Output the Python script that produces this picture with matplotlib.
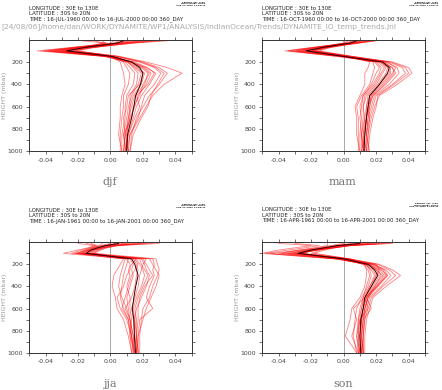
import matplotlib
matplotlib.use('Agg')
from matplotlib import pyplot as plt
import numpy as np

plt.rcParams['axes.unicode_minus'] = False

# pressure levels (mbar)
levels = [10, 30, 50, 70, 100, 150, 200, 250, 300, 400, 500, 600, 700, 850, 1000]

x_ticks = [-0.04, -0.02, 0.00, 0.02, 0.04]
x_tick_labels = ['-0.04', '-0.02', '0.00', '0.02', '0.04']
y_ticks = [200, 400, 600, 800, 1000]
y_tick_labels = ['200', '400', '600', '800', '1000']

# djf
djf_mean = [0.008, 0.004, -0.006, -0.016, -0.027, 0.001, 0.013, 0.018, 0.020, 0.0185, 0.0155, 0.0144, 0.013, 0.0105, 0.0099]
djf_members = [
    [0.030, 0.012, 0.000, -0.012, -0.022, 0.006, 0.022, 0.035, 0.044, 0.033, 0.026, 0.022, 0.018, 0.012, 0.011],
    [0.020, 0.008, -0.004, -0.015, -0.030, 0.003, 0.020, 0.030, 0.035, 0.030, 0.024, 0.020, 0.016, 0.013, 0.012],
    [0.035, 0.015, 0.002, -0.010, -0.020, 0.004, 0.018, 0.027, 0.031, 0.027, 0.021, 0.019, 0.017, 0.012, 0.010],
    [-0.010, -0.004, -0.012, -0.025, -0.045, -0.004, 0.012, 0.022, 0.028, 0.024, 0.019, 0.016, 0.014, 0.011, 0.009],
    [0.012, 0.006, -0.006, -0.020, -0.038, -0.002, 0.014, 0.021, 0.025, 0.022, 0.017, 0.015, 0.012, 0.009, 0.008],
    [0.005, 0.002, -0.009, -0.018, -0.032, 0.000, 0.013, 0.019, 0.023, 0.021, 0.015, 0.013, 0.011, 0.010, 0.010],
    [0.025, 0.010, 0.000, -0.012, -0.025, 0.002, 0.012, 0.017, 0.021, 0.019, 0.014, 0.012, 0.012, 0.010, 0.011],
    [-0.018, -0.002, -0.010, -0.022, -0.040, -0.003, 0.010, 0.015, 0.019, 0.017, 0.013, 0.011, 0.010, 0.008, 0.009],
    [0.015, 0.005, -0.005, -0.014, -0.028, 0.002, 0.011, 0.014, 0.017, 0.016, 0.012, 0.012, 0.011, 0.009, 0.008],
    [0.002, 0.000, -0.008, -0.019, -0.035, -0.001, 0.009, 0.012, 0.015, 0.014, 0.010, 0.009, 0.009, 0.007, 0.007],
    [0.022, 0.009, -0.003, -0.015, -0.027, 0.001, 0.008, 0.010, 0.012, 0.011, 0.008, 0.008, 0.007, 0.006, 0.006],
    [0.010, 0.004, -0.007, -0.017, -0.030, 0.000, 0.006, 0.007, 0.008, 0.009, 0.007, 0.006, 0.006, 0.005, 0.007],
    [0.028, 0.014, 0.001, -0.011, -0.024, 0.005, 0.019, 0.028, 0.033, 0.029, 0.025, 0.023, 0.019, 0.014, 0.012],
    [-0.005, -0.003, -0.011, -0.023, -0.042, -0.003, 0.013, 0.020, 0.024, 0.020, 0.018, 0.014, 0.013, 0.008, 0.010],
    [0.018, 0.007, -0.004, -0.016, -0.034, 0.001, 0.015, 0.023, 0.027, 0.023, 0.016, 0.018, 0.015, 0.011, 0.009],
    [0.008, 0.003, -0.008, -0.021, -0.037, -0.002, 0.011, 0.016, 0.020, 0.018, 0.011, 0.010, 0.008, 0.009, 0.011],
]

# mam
mam_mean = [0.008, 0.004, -0.005, -0.013, -0.023, 0.000, 0.024, 0.028, 0.027, 0.022, 0.016, 0.015, 0.014, 0.013, 0.0125]
mam_members = [
    [0.020, 0.010, 0.000, -0.008, -0.015, 0.006, 0.030, 0.040, 0.042, 0.033, 0.022, 0.019, 0.017, 0.015, 0.015],
    [0.015, 0.008, -0.002, -0.012, -0.020, 0.004, 0.028, 0.036, 0.038, 0.030, 0.020, 0.018, 0.016, 0.014, 0.016],
    [0.005, 0.002, -0.008, -0.018, -0.033, -0.002, 0.026, 0.033, 0.034, 0.028, 0.019, 0.017, 0.015, 0.014, 0.013],
    [0.012, 0.006, -0.003, -0.012, -0.022, 0.002, 0.025, 0.030, 0.031, 0.025, 0.018, 0.016, 0.015, 0.014, 0.014],
    [0.000, 0.000, -0.009, -0.020, -0.036, -0.004, 0.022, 0.028, 0.029, 0.023, 0.016, 0.014, 0.013, 0.012, 0.012],
    [0.010, 0.005, -0.004, -0.014, -0.026, 0.000, 0.024, 0.027, 0.026, 0.021, 0.015, 0.014, 0.014, 0.013, 0.011],
    [0.018, 0.007, -0.002, -0.010, -0.018, 0.003, 0.023, 0.026, 0.024, 0.020, 0.014, 0.012, 0.012, 0.011, 0.012],
    [0.003, 0.001, -0.007, -0.016, -0.030, -0.001, 0.020, 0.023, 0.022, 0.018, 0.012, 0.010, 0.011, 0.010, 0.010],
    [0.008, 0.004, -0.005, -0.013, -0.024, 0.001, 0.018, 0.019, 0.018, 0.016, 0.011, 0.008, 0.009, 0.009, 0.009],
    [0.014, 0.006, -0.003, -0.011, -0.020, 0.002, 0.016, 0.015, 0.013, 0.013, 0.010, 0.007, 0.008, 0.008, 0.010],
    [0.006, 0.003, -0.006, -0.017, -0.028, 0.000, 0.021, 0.025, 0.023, 0.019, 0.013, 0.012, 0.013, 0.011, 0.013],
    [0.016, 0.008, -0.001, -0.009, -0.017, 0.004, 0.027, 0.032, 0.030, 0.024, 0.017, 0.016, 0.014, 0.012, 0.014],
    [0.019, 0.009, -0.001, -0.010, -0.019, 0.005, 0.029, 0.038, 0.040, 0.031, 0.021, 0.020, 0.018, 0.016, 0.015],
    [0.002, 0.001, -0.008, -0.019, -0.034, -0.003, 0.023, 0.030, 0.032, 0.026, 0.018, 0.015, 0.014, 0.013, 0.012],
    [0.011, 0.005, -0.004, -0.013, -0.025, 0.001, 0.019, 0.022, 0.020, 0.017, 0.012, 0.011, 0.010, 0.011, 0.011],
    [0.007, 0.003, -0.006, -0.015, -0.029, 0.000, 0.025, 0.029, 0.028, 0.022, 0.017, 0.015, 0.016, 0.015, 0.014],
]

# jja
jja_mean = [0.005, -0.003, -0.008, -0.012, -0.015, 0.013, 0.015, 0.016, 0.017, 0.0155, 0.0144, 0.0134, 0.0144, 0.0147, 0.0154]
jja_members = [
    [0.030, 0.005, -0.002, -0.006, -0.010, 0.028, 0.029, 0.030, 0.029, 0.026, 0.024, 0.020, 0.019, 0.018, 0.018],
    [-0.020, -0.010, -0.014, -0.020, -0.029, 0.010, 0.012, 0.012, 0.010, 0.008, 0.004, 0.006, 0.010, 0.013, 0.014],
    [0.015, 0.002, -0.005, -0.010, -0.014, 0.020, 0.022, 0.024, 0.026, 0.021, 0.018, 0.017, 0.017, 0.016, 0.016],
    [0.000, -0.006, -0.010, -0.015, -0.022, 0.008, 0.006, 0.004, 0.002, 0.001, 0.003, 0.004, 0.008, 0.011, 0.013],
    [0.022, 0.003, -0.004, -0.008, -0.012, 0.016, 0.018, 0.020, 0.021, 0.019, 0.016, 0.014, 0.015, 0.016, 0.017],
    [0.008, -0.004, -0.009, -0.013, -0.018, 0.012, 0.014, 0.013, 0.014, 0.012, 0.010, 0.011, 0.012, 0.013, 0.015],
    [-0.012, -0.008, -0.012, -0.016, -0.020, 0.024, 0.026, 0.028, 0.030, 0.028, 0.025, 0.022, 0.020, 0.017, 0.016],
    [0.018, 0.000, -0.006, -0.010, -0.016, 0.014, 0.016, 0.017, 0.016, 0.015, 0.013, 0.009, 0.012, 0.014, 0.015],
    [0.004, -0.002, -0.007, -0.012, -0.017, 0.018, 0.019, 0.021, 0.023, 0.020, 0.017, 0.015, 0.016, 0.016, 0.017],
    [0.026, 0.004, -0.003, -0.007, -0.011, 0.011, 0.010, 0.009, 0.008, 0.007, 0.006, 0.008, 0.011, 0.013, 0.014],
    [-0.005, -0.007, -0.011, -0.014, -0.019, 0.022, 0.020, 0.019, 0.018, 0.017, 0.015, 0.013, 0.014, 0.015, 0.016],
    [0.012, -0.001, -0.006, -0.011, -0.015, 0.016, 0.013, 0.011, 0.012, 0.010, 0.012, 0.012, 0.013, 0.012, 0.013],
    [0.010, -0.003, -0.008, -0.012, -0.018, 0.026, 0.027, 0.026, 0.027, 0.024, 0.022, 0.026, 0.018, 0.017, 0.017],
    [-0.015, -0.009, -0.013, -0.018, -0.024, 0.015, 0.017, 0.015, 0.013, 0.011, 0.009, 0.007, 0.011, 0.012, 0.015],
    [0.020, 0.001, -0.005, -0.009, -0.013, 0.019, 0.021, 0.022, 0.024, 0.022, 0.019, 0.016, 0.015, 0.015, 0.016],
    [0.003, -0.005, -0.010, -0.014, -0.021, 0.009, 0.008, 0.007, 0.006, 0.005, 0.007, 0.010, 0.012, 0.014, 0.014],
]

# son
son_mean = [0.010, -0.004, -0.012, -0.020, -0.028, 0.000, 0.015, 0.019, 0.021, 0.017, 0.013, 0.012, 0.0105, 0.010, 0.0105]
son_members = [
    [0.030, 0.005, -0.006, -0.016, -0.030, 0.004, 0.022, 0.030, 0.035, 0.026, 0.018, 0.016, 0.014, 0.013, 0.013],
    [-0.040, -0.020, -0.030, -0.040, -0.050, -0.006, 0.018, 0.026, 0.029, 0.023, 0.016, 0.014, 0.012, 0.011, 0.012],
    [0.020, 0.002, -0.008, -0.018, -0.030, 0.002, 0.017, 0.023, 0.027, 0.021, 0.015, 0.013, 0.013, 0.012, 0.011],
    [0.005, -0.006, -0.014, -0.024, -0.040, -0.003, 0.014, 0.020, 0.024, 0.019, 0.014, 0.012, 0.011, 0.010, 0.010],
    [0.025, 0.003, -0.006, -0.014, -0.020, 0.003, 0.016, 0.020, 0.022, 0.018, 0.014, 0.017, 0.012, 0.011, 0.012],
    [0.000, -0.008, -0.016, -0.026, -0.045, -0.004, 0.013, 0.017, 0.019, 0.016, 0.012, 0.010, 0.009, 0.009, 0.009],
    [0.015, -0.002, -0.010, -0.018, -0.025, 0.001, 0.014, 0.016, 0.017, 0.015, 0.011, 0.008, 0.007, 0.006, 0.008],
    [0.008, -0.004, -0.012, -0.022, -0.035, -0.001, 0.012, 0.015, 0.016, 0.014, 0.012, 0.011, 0.010, 0.009, 0.010],
    [0.028, 0.004, -0.005, -0.012, -0.018, 0.004, 0.013, 0.014, 0.014, 0.013, 0.010, 0.005, 0.004, 0.001, 0.008],
    [-0.010, -0.010, -0.018, -0.028, -0.038, -0.002, 0.016, 0.021, 0.023, 0.019, 0.015, 0.013, 0.012, 0.012, 0.012],
    [0.012, -0.002, -0.010, -0.020, -0.032, 0.000, 0.019, 0.025, 0.027, 0.020, 0.014, 0.012, 0.011, 0.010, 0.011],
    [0.018, 0.000, -0.008, -0.016, -0.026, 0.002, 0.020, 0.022, 0.020, 0.017, 0.013, 0.011, 0.009, 0.008, 0.009],
    [0.022, 0.003, -0.007, -0.017, -0.028, 0.003, 0.021, 0.028, 0.032, 0.024, 0.017, 0.015, 0.013, 0.012, 0.012],
    [-0.030, -0.015, -0.024, -0.034, -0.048, -0.005, 0.015, 0.022, 0.025, 0.020, 0.015, 0.013, 0.011, 0.011, 0.011],
    [0.010, -0.003, -0.011, -0.021, -0.034, -0.001, 0.013, 0.018, 0.020, 0.016, 0.013, 0.015, 0.010, 0.008, 0.010],
    [0.016, -0.001, -0.009, -0.017, -0.027, 0.002, 0.018, 0.024, 0.026, 0.021, 0.013, 0.006, 0.008, 0.005, 0.009],
]

time_labels = {
    'djf': 'TIME : 16-JUL-1960 00:00 to 16-JUL-2000 00:00 360_DAY',
    'mam': 'TIME : 16-OCT-1960 00:00 to 16-OCT-2000 00:00 360_DAY',
    'jja': 'TIME : 16-JAN-1961 00:00 to 16-JAN-2001 00:00 360_DAY',
    'son': 'TIME : 16-APR-1961 00:00 to 16-APR-2001 00:00 360_DAY',
}
journal_path = '[24/08/06]/home/dan/WORK/DYNAMITE/WP1/ANALYSIS/IndianOcean/Trends/DYNAMITE_IO_temp_trends.jnl'

W, H = 442, 390
fig = plt.figure(figsize=(W / 100, H / 100), dpi=100)
fig.patch.set_facecolor('white')


def px_rect(left, top, width, height):
    return [left / W, 1 - (top + height) / H, width / W, height / H]


# panel name -> (axes left, axes top, width, height) in pixels
panels = {
    'djf': (29.3, 39.7, 162.4, 111.6),
    'mam': (262.3, 39.7, 162.7, 111.6),
    'jja': (29.3, 242.3, 162.4, 110.4),
    'son': (262.3, 242.3, 162.7, 110.4),
}
data = {
    'djf': (djf_mean, djf_members),
    'mam': (mam_mean, mam_members),
    'jja': (jja_mean, jja_members),
    'son': (son_mean, son_members),
}
header_top = {'djf': 8.0, 'mam': 8.0, 'jja': 210.0, 'son': 209.5}

for name, (left, top, width, height) in panels.items():
    ax = fig.add_axes(px_rect(left, top, width, height))
    mean, members = data[name]
    ax.axvline(0, color='#999999', lw=0.6, zorder=1)
    for m in members:
        ax.plot(m, levels, color='#ff0000', lw=0.6, alpha=0.5, zorder=2)
    ax.plot(mean, levels, color='#300000', lw=0.7, zorder=4)

    ax.set_xlim(-0.05, 0.05)
    ax.set_ylim(1000, 0)
    ax.set_xticks(x_ticks)
    ax.set_xticklabels(x_tick_labels)
    ax.set_xticks(np.arange(-0.05, 0.0501, 0.01), minor=True)
    ax.set_yticks(y_ticks)
    ax.set_yticklabels(y_tick_labels)
    ax.set_yticks(np.arange(100, 1000, 100), minor=True)
    ax.tick_params(which='both', direction='out', length=2.2, width=0.5, color='#333333',
                   top=True, right=True, labelsize=4.5, labelcolor='#444444', pad=2.5)
    for s in ax.spines.values():
        s.set_linewidth(0.7)
        s.set_color('#333333')

    # side label and panel name
    fig.text((left - 25) / W, 1 - (top + height / 2) / H, 'HEIGHT (mbar)', rotation=90,
             fontsize=4.5, color='#999999', ha='center', va='center')
    fig.text((left + 80.7) / W, 1 - (top + height + 31) / H, name, fontsize=8,
             family='DejaVu Serif', color='#777777', ha='center', va='center')

    # Ferret header lines
    ht = header_top[name]
    header = ['LONGITUDE : 30E to 130E', 'LATITUDE : 30S to 20N', time_labels[name]]
    for i, line in enumerate(header):
        fig.text(left / W, 1 - (ht + i * 5.5) / H, line, fontsize=3.9,
                 color='#222222', ha='left', va='center')
    stamp = 'FERRET Ver. 5.80\nNOAA/PMEL TMAP\nAug 24 2006 11:59:41'
    fig.text((left + 176) / W, 1 - (ht - 4.3) / H, stamp, fontsize=1.7, linespacing=1.1,
             color='#222222', ha='right', va='center', weight='bold')

fig.text(1 / W, 1 - 26.5 / H, journal_path, fontsize=5.4, color='#aaaaaa', ha='left', va='center')

fig.savefig('out.png', dpi=100)
